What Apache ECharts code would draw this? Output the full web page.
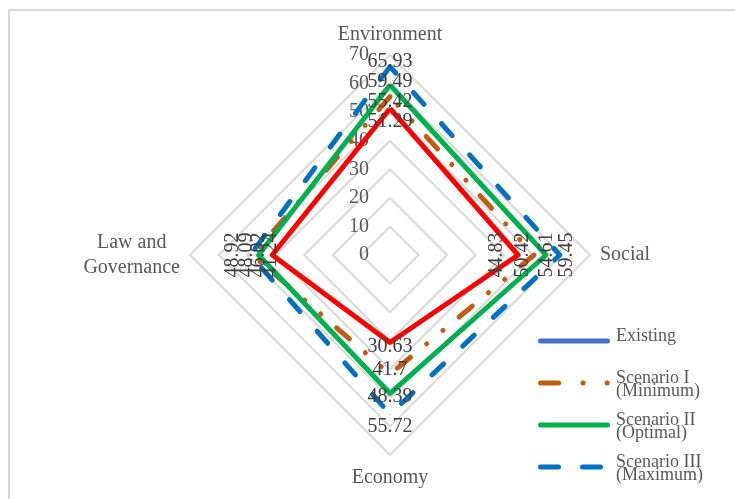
<!DOCTYPE html>
<html>
<head>
<meta charset="utf-8">
<script src="https://cdn.jsdelivr.net/npm/echarts@6/dist/echarts.min.js"></script>
<style>
html,body{margin:0;padding:0;background:#fff;}
#c1{width:735px;height:499px;}
</style>
</head>
<body>
<div id="c1"></div>
<script>
// indicators go counterclockwise from the top: Environment, Law, Economy, Social
var indicators = ['Environment', 'Law and\nGovernance', 'Economy', 'Social'];
var axis_max = 70;
var axis_split = 7;
var series_names = ['Existing', 'Scenario I\n(Minimum)', 'Scenario II\n(Optimal)', 'Scenario III\n(Maximum)'];
var existing_vals = [51.29, 41.24, 30.63, 44.83];
var scen1_vals = [55.42, 48.09, 41.7, 50.42];
var scen2_vals = [59.49, 46.02, 48.39, 54.61];
var scen3_vals = [65.93, 48.92, 55.72, 59.45];

var all_vals = [existing_vals, scen1_vals, scen2_vals, scen3_vals];
var font = 'Liberation Serif';
var gray = '#595959';

var line_styles = [
    {color: '#FF0000', width: 5, type: 'solid'},
    {color: '#C55A11', width: 5, type: [17, 21, 0.1, 21, 0.1, 21], cap: 'round'},
    {color: '#00B050', width: 5, type: 'solid'},
    {color: '#0070C0', width: 5, type: [16, 26], cap: 'round'}
];
var legend_colors = ['#4472C4', '#C55A11', '#00B050', '#0070C0'];
var legend_dash = [null, [18, 24.5, 0.1, 24, 0.1, 30], null, [18, 24]];
var legend_x2 = [607.5, 607.6, 607.5, 600.5];

// label nudges in px, per series: [top dy, left dx, bottom dy, right dx]
var label_shift = [
    [13, -1, 4, -21],
    [5, -6, -4, -11],
    [-3, 0, 3, 1],
    [-5, -17, 13, 7]
];

function pad(d)
{
    return d > 0 ? [2 * d, 0, 0, 0] : [0, 0, -2 * d, 0];
}

function label_series(i, dims, rot)
{
    var rich = {};
    for (var k = 0; k < dims.length; k++) {
        rich['d' + dims[k]] = {
            fontFamily: font, fontSize: 20, color: '#404040',
            padding: pad(label_shift[i][dims[k]])
        };
    }
    return {
        type: 'radar',
        z: 5,
        symbol: 'circle',
        symbolSize: 1,
        itemStyle: {color: 'rgba(0,0,0,0)'},
        lineStyle: {width: 0, opacity: 0},
        silent: true,
        label: {
            show: true,
            position: 'inside',
            rotate: rot,
            formatter: function (p) {
                var d = p.dimensionIndex;
                if (dims.indexOf(d) < 0) return '';
                var v = Array.isArray(p.value) ? p.value[d] : p.value;
                return '{d' + d + '|' + v + '}';
            },
            rich: rich
        },
        data: [{value: all_vals[i], name: series_names[i]}]
    };
}

var ind = indicators.map(function (n, k) {
    var o = {name: n, max: axis_max, min: 0};
    if (k === 0) {
        o.nameGap = 4;
        o.axisLabel = {show: true, color: gray, fontFamily: font, fontSize: 20, margin: 21};
    }
    return o;
});

var series = [];
all_vals.forEach(function (vals, i) {
    series.push({
        type: 'radar',
        z: 2,
        symbol: 'circle',
        symbolSize: 1,
        itemStyle: {color: line_styles[i].color},
        lineStyle: line_styles[i],
        silent: true,
        data: [{value: vals, name: series_names[i]}]
    });
});
all_vals.forEach(function (vals, i) {
    series.push(label_series(i, [0, 2], 0));
    series.push(label_series(i, [1, 3], 90));
});

// legend drawn as graphic lines + text
var graphics = [{
    type: 'rect',
    shape: {x: 9, y: 10, width: 800, height: 600},
    style: {fill: 'none', stroke: '#D9D9D9', lineWidth: 2},
    silent: true
}];
var legend_y = [341, 383, 425, 467];
for (var i = 0; i < series_names.length; i++) {
    graphics.push({
        type: 'line',
        shape: {x1: 540.5, y1: legend_y[i], x2: legend_x2[i], y2: legend_y[i]},
        style: {stroke: legend_colors[i], lineWidth: 5, lineCap: 'round', lineDash: legend_dash[i]},
        silent: true
    });
    graphics.push({
        type: 'text',
        x: 616,
        y: i === 0 ? 336 : legend_y[i] + 2,
        style: {text: series_names[i], fontFamily: font, fontSize: 18, lineHeight: 13,
                fill: gray, verticalAlign: 'middle'},
        silent: true
    });
}

var c1_chart = echarts.init(document.getElementById('c1'));
c1_chart.setOption({
    backgroundColor: '#fff',
    animation: false,
    radar: {
        center: [390, 255],
        radius: 200,
        shape: 'polygon',
        splitNumber: axis_split,
        startAngle: 90,
        nameGap: 10,
        indicator: ind,
        axisName: {
            color: gray,
            fontFamily: font,
            fontSize: 20,
            formatter: function (name) {
                return name.split('\n').map(function (s) { return '{c|' + s + '}'; }).join('\n');
            },
            rich: {c: {align: 'center', fontFamily: font, fontSize: 20, color: gray, lineHeight: 25}}
        },
        axisLine: {show: false},
        axisTick: {show: false},
        axisLabel: {show: false},
        splitLine: {lineStyle: {color: '#D9D9D9', width: 2}},
        splitArea: {show: false}
    },
    series: series,
    graphic: graphics
});
</script>
</body>
</html>
